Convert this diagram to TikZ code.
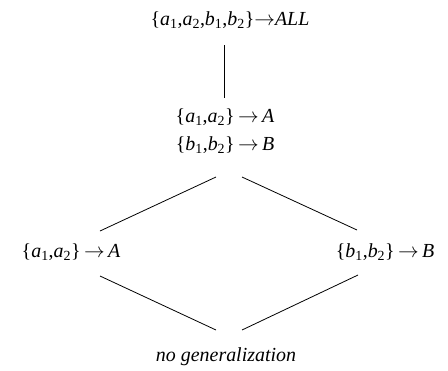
\documentclass[tikz,border=0pt]{standalone}
\usepackage{fontspec}
\setmainfont{Liberation Serif}
\newcommand\vsub[2]{\textit{#1}\textsubscript{#2}}
\newcommand\arr{\,$\rightarrow$\,}
\begin{document}
\begin{tikzpicture}[x=1bp,y=-1bp,
  lbl/.style={inner sep=0pt,font=\fontsize{20}{28}\selectfont,align=center},
  edge/.style={draw=black,line width=0.8bp}]
\useasboundingbox (0,0) rectangle (448,370);
\node[lbl] (top) at (230,20) {\{\vsub{a}{1},\vsub{a}{2},\vsub{b}{1},\vsub{b}{2}\}$\rightarrow$\textit{ALL}};
\node[lbl] (mid) at (225,131) {\{\vsub{a}{1},\vsub{a}{2}\}\arr\textit{A}\\\{\vsub{b}{1},\vsub{b}{2}\}\arr\textit{B}};
\node[lbl] (left) at (71,252) {\{\vsub{a}{1},\vsub{a}{2}\}\arr\textit{A}};
\node[lbl] (right) at (385,252) {\{\vsub{b}{1},\vsub{b}{2}\}\arr\textit{B}};
\node[lbl] (bot) at (226,357) {\textit{no generalization}};
\coordinate (t1) at (224,45);
\coordinate (t2) at (224,98);
\coordinate (ul1) at (100,231);
\coordinate (ul2) at (216,177);
\coordinate (ur1) at (242,177);
\coordinate (ur2) at (357,230);
\coordinate (ll1) at (100,276);
\coordinate (ll2) at (216,330);
\coordinate (lr1) at (242,330);
\coordinate (lr2) at (358,275);
\draw[edge] (t1) -- (t2);
\draw[edge] (ul1) -- (ul2);
\draw[edge] (ur1) -- (ur2);
\draw[edge] (ll1) -- (ll2);
\draw[edge] (lr1) -- (lr2);
\end{tikzpicture}
\end{document}
